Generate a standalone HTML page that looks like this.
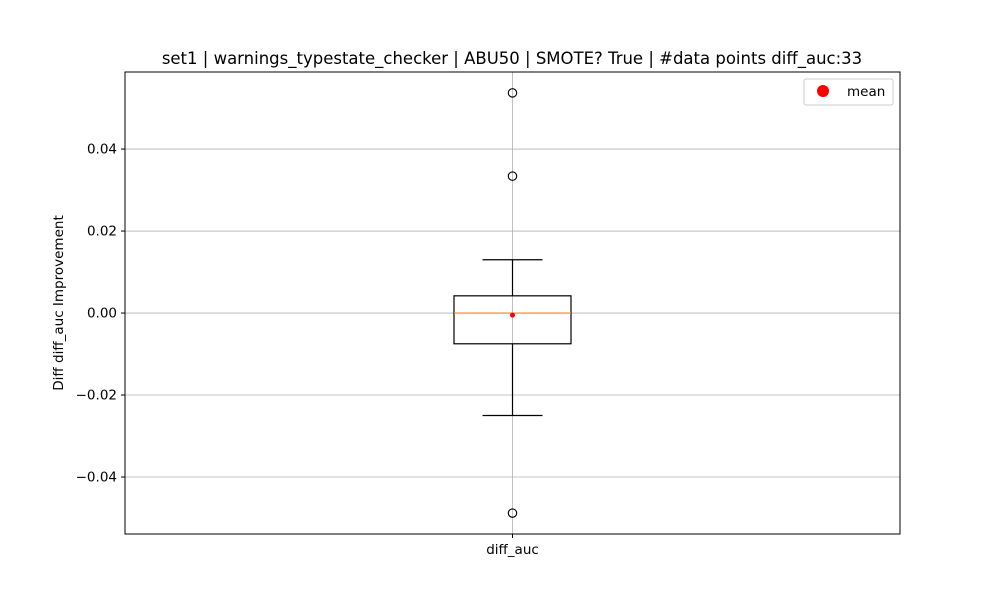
<!DOCTYPE html>
<html><head><meta charset="utf-8"><style>
body{margin:0;background:#fff;}
svg text{font-family:"DejaVu Sans","Liberation Sans",sans-serif;}
</style></head><body>
<svg id="chart" width="1000" height="600" xmlns="http://www.w3.org/2000/svg">
<rect width="1000" height="600" fill="#fff"/>
<text x="512" y="64" font-size="16.5" text-anchor="middle">set1 | warnings_typestate_checker | ABU50 | SMOTE? True | #data points diff_auc:33</text>
<g id="grid"></g>
<g id="marks"></g>
<rect x="125" y="72" width="775" height="462" fill="none" stroke="#000" stroke-width="1"/>
<g id="ticks"></g>
<text x="63" y="303" font-size="13.5" text-anchor="middle" transform="rotate(-90 63 303)">Diff diff_auc Improvement</text>
<g>
<rect x="804" y="79" width="89" height="26" rx="2" fill="#fff" stroke="#ccc"/>
<circle cx="823" cy="91" r="6" fill="#ff0000"/>
<text x="847" y="96" font-size="13.5">mean</text>
</g>
</svg>
<script>
const categories = ["diff_auc"];
const yTicks = [-0.04, -0.02, 0.00, 0.02, 0.04];
const yTickLabels = ["\u22120.04", "\u22120.02", "0.00", "0.02", "0.04"];
const q1 = [-0.0075];
const q3 = [0.0042];
const medians = [0.0];
const whiskerLow = [-0.025];
const whiskerHigh = [0.013];
const means = [-0.0005];
const outliers = [[0.0537, 0.0334, -0.0488]];

const NS = "http://www.w3.org/2000/svg";
const L = 125, R = 900, T = 72, B = 534;
const yMin = -0.0539, yMax = 0.0588;
function y(v){ return B - (v - yMin) / (yMax - yMin) * (B - T); }
function x(i){ return L + (i + 0.5) * (R - L) / categories.length; }
function mk(tag, attrs, parent){
  const e = document.createElementNS(NS, tag);
  for (const k in attrs) e.setAttribute(k, attrs[k]);
  parent.appendChild(e); return e;
}
const grid = document.getElementById('grid');
const marks = document.getElementById('marks');
const ticks = document.getElementById('ticks');
yTicks.forEach((t, i) => {
  const g = mk('line', {x1: L, x2: R, y1: y(t), y2: y(t), stroke: '#b0b0b0', 'stroke-width': 0.8}, grid);
  
  
  const tk = mk('line', {x1: L - 4, x2: L, y1: y(t), y2: y(t), stroke: '#000'}, ticks);
  
  
  const lb = mk('text', {x: L - 8, y: y(t) + 4.5, 'font-size': 13.5, 'text-anchor': 'end'}, ticks);
  lb.textContent = yTickLabels[i];
  
  
});
categories.forEach((c, i) => {
  const cx = x(i);
  const vg = mk('line', {x1: cx, x2: cx, y1: T, y2: B, stroke: '#b0b0b0', 'stroke-width': 0.8}, grid);
  
  
  const tk = mk('line', {x1: cx, x2: cx, y1: B, y2: B + 4, stroke: '#000'}, ticks);
  
  
  const lb = mk('text', {x: cx, y: B + 20, 'font-size': 13.5, 'text-anchor': 'middle'}, ticks);
  lb.textContent = c;
  
  
  const hw = 58.5, cw = 30;
  const w1 = mk('line', {x1: cx, x2: cx, y1: y(q3[i]), y2: y(whiskerHigh[i]), stroke: '#000', 'stroke-width': 1.2}, marks);
  
  
  const w2 = mk('line', {x1: cx, x2: cx, y1: y(q1[i]), y2: y(whiskerLow[i]), stroke: '#000', 'stroke-width': 1.2}, marks);
  
  
  const c1 = mk('line', {x1: cx - cw, x2: cx + cw, y1: y(whiskerHigh[i]), y2: y(whiskerHigh[i]), stroke: '#000', 'stroke-width': 1.2}, marks);
  
  
  const c2 = mk('line', {x1: cx - cw, x2: cx + cw, y1: y(whiskerLow[i]), y2: y(whiskerLow[i]), stroke: '#000', 'stroke-width': 1.2}, marks);
  
  
  const bx = mk('rect', {x: cx - hw, y: y(q3[i]), width: 2 * hw, height: y(q1[i]) - y(q3[i]), fill: 'none', stroke: '#000', 'stroke-width': 1.2}, marks);
  
  
  const md = mk('line', {x1: cx - hw, x2: cx + hw, y1: y(medians[i]), y2: y(medians[i]), stroke: '#ff7f0e', 'stroke-width': 1.2}, marks);
  
  
  outliers[i].forEach(v => {
    const o = mk('circle', {cx: cx, cy: y(v), r: 4.2, fill: 'none', stroke: '#000', 'stroke-width': 1.1}, marks);
    
    
  });
  const mn = mk('circle', {cx: cx, cy: y(means[i]), r: 2.5, fill: '#ff0000'}, marks);
  
  
});
</script>
</body></html>
